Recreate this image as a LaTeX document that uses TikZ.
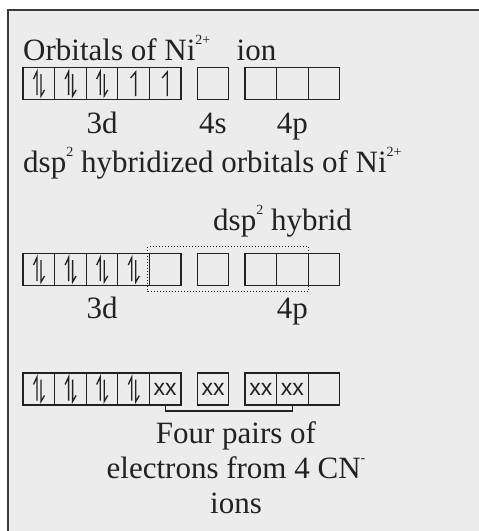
\documentclass[tikz,border=0pt]{standalone}
\usepackage{fontspec}
\setmainfont{Liberation Serif}
\setsansfont{Liberation Sans}
\usetikzlibrary{calc}
\definecolor{ink}{HTML}{222222}
\definecolor{paper}{HTML}{ECECEC}
\definecolor{edge}{HTML}{3A3A3A}
% small raised charge / power
\newcommand{\chg}[1]{\raisebox{0.5em}{\fontsize{14}{14}\selectfont #1}}
\tikzset{
  font=\fontsize{31}{35}\selectfont,
  orb/.style={draw=ink, line width=1.2pt, minimum width=31.6pt,
              minimum height=32pt, inner sep=0pt, outer sep=0pt},
  spin/.style={draw=ink, line width=1.3pt},
  lbl/.style={text=ink, inner sep=0pt, anchor=base},
  lone/.style={font=\sffamily\fontsize{23}{23}\selectfont, text=ink, inner sep=0pt},
  hyb/.style={draw=ink, line width=1pt, dotted},
}

\begin{document}
\begin{tikzpicture}[x=1pt, y=-1pt]

  \useasboundingbox (0,0) rectangle (479,531);
  \fill[paper] (8,10) rectangle (479,531);
  \draw[edge, line width=1.2pt] (8,531) -- (8,10) -- (479,10);

  % one row of boxes: 3d (1-5), 4s (6), 4p (7-9)
  \newcommand{\orbrow}[2]{% prefix, y
    \foreach \i in {1,...,5} \node[orb] (#1\i) at ({38.8+31.6*(\i-1)},#2) {};
    \node[orb] (#16) at (213,#2) {};
    \foreach \i/\x in {7/260.8, 8/292.4, 9/324} \node[orb] (#1\i) at (\x,#2) {};
  }
  \newcommand{\spinup}[1]{%
    \draw[spin] ($(#1)+(-3,-5.5)$) -- ($(#1)+(2,-11.5)$) -- ($(#1)+(2,12.5)$);
  }
  \newcommand{\spinpair}[1]{%
    \draw[spin] ($(#1)+(-5.3,-4.5)$) -- ($(#1)+(-1.8,-12)$) -- ($(#1)+(-1.8,11.5)$);
    \draw[spin] ($(#1)+(2.2,-9.5)$) -- ($(#1)+(2.2,12.5)$) -- ($(#1)+(5.7,6.5)$);
  }

  % --- Ni2+ ground state ----------------------------------------------------
  \node[lbl, anchor=base west] (t1) at (23,60)
    {Orbitals of Ni\chg{2+}\hspace{0.6em} ion};
  \orbrow{a}{83.5}
  \foreach \i in {1,2,3} { \spinpair{a\i} }
  \foreach \i in {4,5} { \spinup{a\i} }
  \node[lbl] (a3d) at ($(a3)+(0,49.5)$) {3d};
  \node[lbl] (a4s) at ($(a6)+(0,49.5)$) {4s};
  \node[lbl] (a4p) at ($(a8)+(0,49.5)$) {4p};

  % --- after pairing --------------------------------------------------------
  \node[lbl, anchor=base west] (t2) at (23,172)
    {dsp\chg{2} hybridized orbitals of Ni\chg{2+}};
  \node[lbl, anchor=base west] (t3) at (213,230) {dsp\chg{2} hybrid};
  \orbrow{b}{269.5}
  \foreach \i in {1,...,4} { \spinpair{b\i} }
  \draw[hyb] ($(b5.north west)+(-1.5,-7)$) rectangle ($(b8.south east)+(0,6)$);
  \node[lbl] (b3d) at ($(b3)+(0,48.5)$) {3d};
  \node[lbl] (b4p) at ($(b8)+(0,48.5)$) {4p};

  % --- ligand pairs ---------------------------------------------------------
  \orbrow{c}{389}
  \foreach \i in {1,...,4} { \spinpair{c\i} }
  \foreach \i in {5,...,8} { \node[lone] (x\i) at (c\i) {xx}; }
  \draw[ink, line width=1.1pt] (c5.south) -- ++(0,6) -| (c8.south);

  % base of a multi-line node sits on its last line
  \node[lbl, align=center] (cn) at (236,513)
    {Four pairs of\\electrons from 4 CN\chg{-}\\ions};

\end{tikzpicture}
\end{document}
